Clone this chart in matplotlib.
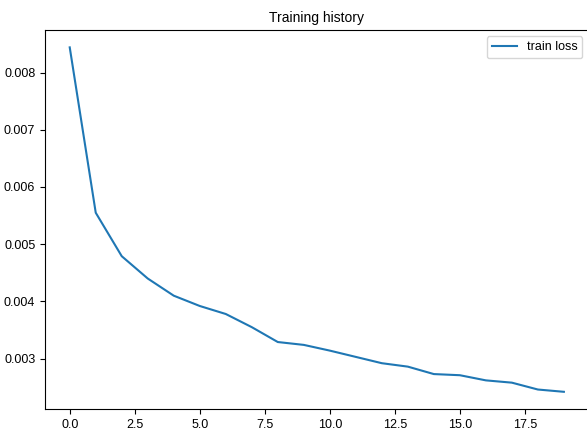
import matplotlib
matplotlib.use("Agg")
import matplotlib.pyplot as plt

plt.rcParams['font.family'] = ['Liberation Sans', 'DejaVu Sans']

# Training loss per epoch
epochs = list(range(20))
train_loss = [0.00844, 0.00555, 0.00479, 0.00440, 0.00410, 0.00392, 0.00378,
              0.00355, 0.00329, 0.00324, 0.00314, 0.00303, 0.00292, 0.00286,
              0.00273, 0.00271, 0.00262, 0.00258, 0.00246, 0.00242]

fig = plt.figure(figsize=(5.87, 4.37), dpi=100)
ax = fig.add_axes([0.0767, 0.064, 0.926, 0.867])
ax.plot(epochs, train_loss, label="train loss", color="#1f77b4", linewidth=1.5)
ax.set_title("Training history", fontsize=10)
ax.tick_params(labelsize=9)
ax.legend(loc="upper right", fontsize=9)

plt.savefig("out.png", dpi=100, facecolor="white")
